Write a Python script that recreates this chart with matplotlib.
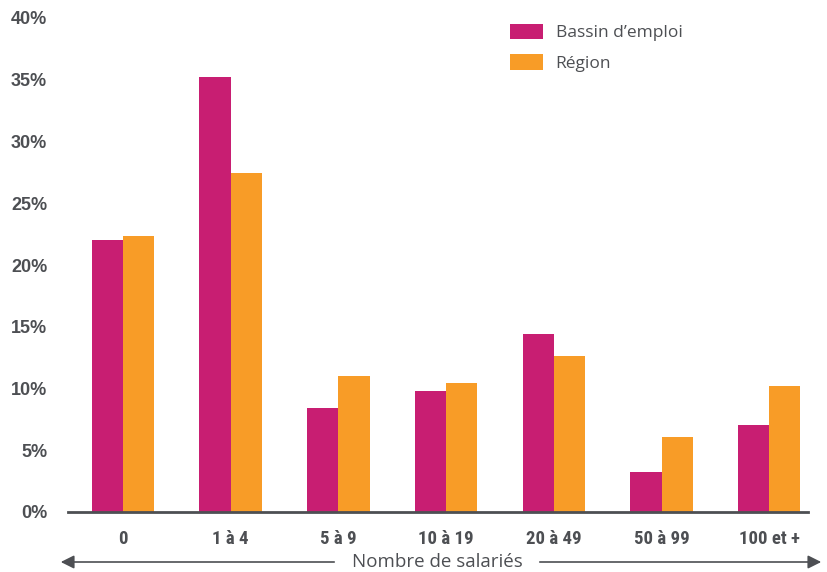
import numpy as np
import matplotlib
matplotlib.use('Agg')
import matplotlib.pyplot as plt
from matplotlib.patches import FancyArrowPatch

#Data
categories = ['0', '1 à 4', '5 à 9', '10 à 19', '20 à 49', '50 à 99', '100 et +']
bassin = [22.0, 35.2, 8.4, 9.8, 14.4, 3.2, 7.05]
region = [22.35, 27.45, 11.0, 10.45, 12.6, 6.1, 10.2]
yticks = [0, 5, 10, 15, 20, 25, 30, 35, 40]

magenta = '#C81E72'
orange = '#F89C27'
grey = '#4D4F53'

W, H = 828, 572
fig = plt.figure(figsize=(W/100, H/100), dpi=100)
ax = fig.add_axes([68/W, 1-512/H, (808-68)/W, (512-18)/H])

x = np.arange(len(categories))
w = 0.29
ax.bar(x - w/2, bassin, w, color=magenta, label='Bassin d\u2019emploi')
ax.bar(x + w/2, region, w, color=orange, label='Région')

ax.set_xlim(-0.51, 6.36)
ax.set_ylim(0, 40)
for s in ['left', 'right', 'top']:
    ax.spines[s].set_visible(False)
ax.spines['bottom'].set_color(grey)
ax.spines['bottom'].set_linewidth(2)

ax.set_yticks(yticks)
ax.set_yticklabels([str(v) + '%' for v in yticks], fontsize=13, fontweight='bold',
                   color=grey, family=['Liberation Sans', 'DejaVu Sans'])
ax.tick_params(axis='y', length=0, pad=15)
ax.set_xticks(x)
ax.set_xticklabels(categories, fontsize=13.5, fontweight='bold', color=grey,
                   family=['Liberation Sans Narrow', 'Roboto Condensed', 'Liberation Sans'])
ax.tick_params(axis='x', length=0, pad=13)

leg = ax.legend(loc='upper left', bbox_to_anchor=(494/W, 1-8/H), bbox_transform=fig.transFigure,
                frameon=False, handlelength=1.9, handleheight=1.0,
                labelspacing=0.75, handletextpad=0.75, prop={'family': 'Open Sans', 'size': 12.5})
for t in leg.get_texts():
    t.set_color(grey)

#Arrow with axis title
ty = 1 - 562/H
fig.text(437/W, ty, 'Nombre de salariés', ha='center', va='center', fontsize=13.5,
         color=grey, family='Open Sans')
a1 = FancyArrowPatch((337/W, ty), (58/W, ty), transform=fig.transFigure,
                     arrowstyle='-|>,head_length=8,head_width=4', color=grey, lw=1.2)
a2 = FancyArrowPatch((537/W, ty), (824/W, ty), transform=fig.transFigure,
                     arrowstyle='-|>,head_length=8,head_width=4', color=grey, lw=1.2)
fig.add_artist(a1)
fig.add_artist(a2)

plt.savefig('out.png', dpi=100)
